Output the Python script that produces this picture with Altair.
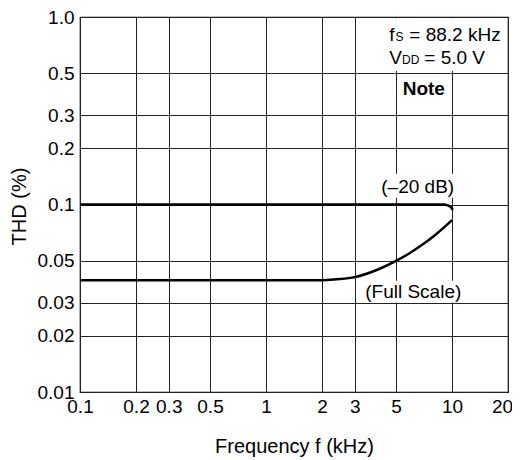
import altair as alt
import pandas as pd

# ---- data ----
freq_20db = [0.1, 1.0, 5.0, 9.0, 9.5, 9.9, 10.1]
thd_20db = [0.1, 0.1, 0.1, 0.1, 0.099, 0.0965, 0.0935]

freq_full = [0.1, 1.0, 2.0, 2.5, 3.0, 4.0, 5.0, 6.0, 7.0, 8.0, 9.0, 10.0]
thd_full = [0.0395, 0.0395, 0.0395, 0.0400, 0.041, 0.045, 0.050, 0.0555, 0.0615, 0.068, 0.075, 0.0825]

x_ticks = [0.1, 0.2, 0.3, 0.5, 1, 2, 3, 5, 10, 20]
y_ticks = [0.01, 0.02, 0.03, 0.05, 0.1, 0.2, 0.3, 0.5, 1.0]

series_labels = ["(–20 dB)", "(Full Scale)"]
series_label_f = [6.54, 6.19]
series_label_thd = [0.1151, 0.0317]

# white boxes behind annotations (in data units)
box_f1 = [4.1, 4.0, 3.25]
box_f2 = [19.7, 10.35, 11.6]
box_t1 = [0.515, 0.1087, 0.0300]
box_t2 = [0.985, 0.146, 0.0392]

FONT = "Liberation Sans"

df20 = pd.DataFrame({"f": freq_20db, "thd": thd_20db})
dffull = pd.DataFrame({"f": freq_full, "thd": thd_full})
dfbox = pd.DataFrame({"f": box_f1, "f2": box_f2, "thd": box_t1, "thd2": box_t2})
dflab = pd.DataFrame({"f": series_label_f, "thd": series_label_thd, "text": series_labels})

xs = alt.Scale(type="log", domain=[0.1, 20], nice=False)
ys = alt.Scale(type="log", domain=[0.01, 1.0], nice=False)

xaxis = alt.Axis(
    values=x_ticks, title="Frequency f (kHz)",
    labelExpr="format(datum.value, '~g')",
    grid=True, ticks=False, domain=False, labelOverlap=False,
    labelPadding=5, labelFontSize=19, titleFontSize=20,
    titleY=60, titleBaseline="alphabetic", labelFlush=False,
    labelOffset=alt.condition("datum.value == 20", alt.value(-6), alt.value(0)),
)
yaxis = alt.Axis(
    values=y_ticks, title="THD (%)",
    labelExpr="datum.value == 1 ? '1.0' : format(datum.value, '~g')",
    grid=True, ticks=False, domain=False, labelOverlap=False,
    labelPadding=6, labelFontSize=19, titleFontSize=20,
    titleX=-55, titleY=189, titleBaseline="alphabetic", labelFlush=False,
)

X = alt.X("f:Q", scale=xs, axis=xaxis)
Y = alt.Y("thd:Q", scale=ys, axis=yaxis)

boxes = alt.Chart(dfbox).mark_rect(color="white").encode(x=X, x2="f2:Q", y=Y, y2="thd2:Q")

line20 = alt.Chart(df20).mark_line(color="black", strokeWidth=2.5, interpolate="monotone").encode(x=X, y=Y)
linefull = alt.Chart(dffull).mark_line(color="black", strokeWidth=2.5, interpolate="monotone").encode(x=X, y=Y)

labels = alt.Chart(dflab).mark_text(font=FONT, fontSize=19, align="center", baseline="alphabetic", color="black").encode(
    x=X, y=Y, text="text:N")

# condition annotation pieces (text, anchor thd, dx, size)
piece_text = ["f", "S", "= 88.2 kHz", "V", "DD", "= 5.0 V"]
piece_thd = [0.747, 0.747, 0.747, 0.559, 0.559, 0.559]
piece_dx = [0, 6.3, 20, 0, 12.8, 35]
piece_size = [19, 12, 19, 19, 12, 19]
anchor_f = 4.6

layers = [boxes, line20, linefull, labels]
for t, th, dx, sz in zip(piece_text, piece_thd, piece_dx, piece_size):
    d = pd.DataFrame({"f": [anchor_f], "thd": [th], "text": [t]})
    layers.append(
        alt.Chart(d).mark_text(font=FONT, fontSize=sz, align="left", baseline="alphabetic",
                               dx=dx, color="black").encode(x=X, y=Y, text="text:N")
    )

note = pd.DataFrame({"f": [7.05], "thd": [0.385], "text": ["Note"]})
layers.append(
    alt.Chart(note).mark_text(font=FONT, fontSize=19, fontWeight="bold", align="center",
                              baseline="alphabetic", color="black").encode(x=X, y=Y, text="text:N")
)

chart = alt.layer(*layers).properties(
    width=428, height=375,
    autosize=alt.AutoSizeParams(type="none"),
    padding={"left": 72, "top": 9, "right": 4, "bottom": 67},
).configure_view(
    stroke="black", strokeWidth=1.2
).configure_axis(
    gridColor="#222", gridWidth=1, gridOpacity=1,
    labelFont=FONT, titleFont=FONT, labelColor="black", titleColor="black",
    titleFontWeight="normal",
)

chart.save("out.html", embed_options={"renderer": "svg", "actions": False})
